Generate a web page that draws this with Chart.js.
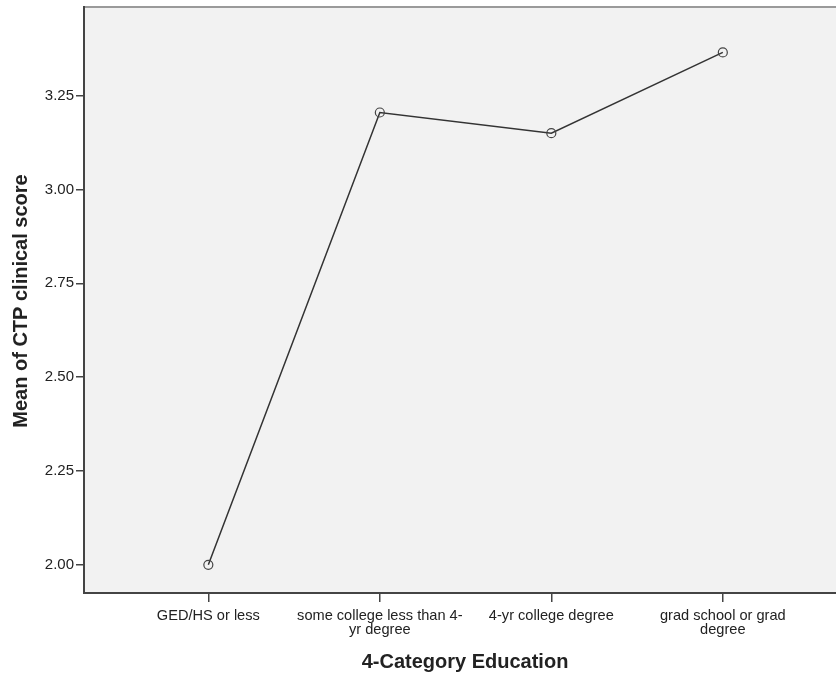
<!DOCTYPE html>
<html>
<head>
<meta charset="utf-8">
<script src="https://cdn.jsdelivr.net/npm/chart.js@4/dist/chart.umd.min.js"></script>
<style>
  body { margin: 0; background: #fff; }
  #wrap { width: 836px; height: 675px; }
</style>
</head>
<body>
<div id="wrap"><canvas id="chart" width="836" height="675"></canvas></div>
<script>
// data
const categories = [
  ['GED/HS or less'],
  ['some college less than 4-', 'yr degree'],
  ['4-yr college degree'],
  ['grad school or grad', 'degree']
];
const meanScores = [2.00, 3.205, 3.150, 3.365];
const yTicks = [2.00, 2.25, 2.50, 2.75, 3.00, 3.25];

const xTitle = '4-Category Education';
const yTitle = 'Mean of CTP clinical score';
const fontFamily = '"Liberation Sans", Arial, sans-serif';

// plot background, top frame line and axis titles
const frame = {
  id: 'frame',
  beforeDraw(chart) {
    const { ctx, chartArea: a } = chart;
    ctx.save();
    ctx.fillStyle = '#f2f2f2';
    ctx.fillRect(a.left, a.top, a.right - a.left, a.bottom - a.top);
    ctx.strokeStyle = '#9a9a9a';
    ctx.lineWidth = 2;
    ctx.beginPath();
    ctx.moveTo(a.left, a.top);
    ctx.lineTo(a.right, a.top);
    ctx.stroke();
    ctx.restore();
  },
  afterDraw(chart) {
    const { ctx } = chart;
    ctx.save();
    ctx.fillStyle = '#222';
    ctx.font = 'bold 20px ' + fontFamily;
    ctx.textAlign = 'center';
    ctx.textBaseline = 'middle';
    ctx.fillText(xTitle, 465, 662);
    ctx.translate(21, 301);
    ctx.rotate(-Math.PI / 2);
    ctx.fillText(yTitle, 0, 0);
    ctx.restore();
  }
};

new Chart(document.getElementById('chart'), {
  type: 'line',
  data: {
    datasets: [{
      data: meanScores.map((v, i) => ({ x: i, y: v })),
      borderColor: '#333',
      borderWidth: 1.5,
      pointRadius: 4.5,
      pointBorderWidth: 1.2,
      pointBorderColor: '#444',
      pointBackgroundColor: 'rgba(0,0,0,0)',
      tension: 0
    }]
  },
  options: {
    responsive: false,
    animation: false,
    layout: { autoPadding: false, padding: { top: 7, right: 0, bottom: 0, left: 0 } },
    plugins: { legend: { display: false }, tooltip: { enabled: false } },
    scales: {
      x: {
        type: 'linear',
        min: -0.725,
        max: 3.66,
        afterBuildTicks: s => { s.ticks = categories.map((c, i) => ({ value: i })); },
        afterFit: s => { s.height = 82; s.paddingLeft = 0; s.paddingRight = 0; },
        border: { display: true, color: '#444', width: 2 },
        grid: { drawOnChartArea: false, drawTicks: true, tickLength: 9, color: '#444', lineWidth: 1.5 },
        ticks: {
          color: '#222',
          padding: 7,
          maxRotation: 0,
          autoSkip: false,
          font: { family: fontFamily, size: 14.6, lineHeight: 0.97 },
          callback: v => categories[v]
        }
      },
      y: {
        min: 1.925,
        max: 3.486,
        afterBuildTicks: s => { s.ticks = yTicks.map(v => ({ value: v })); },
        afterFit: s => { s.width = 84; s.paddingTop = 0; s.paddingBottom = 0; },
        border: { display: true, color: '#444', width: 2 },
        grid: { drawOnChartArea: false, drawTicks: true, tickLength: 8, color: '#444', lineWidth: 1.5 },
        ticks: {
          color: '#222',
          padding: 2,
          font: { family: fontFamily, size: 15 },
          callback: v => v.toFixed(2)
        }
      }
    }
  },
  plugins: [frame]
});
</script>
</body>
</html>
